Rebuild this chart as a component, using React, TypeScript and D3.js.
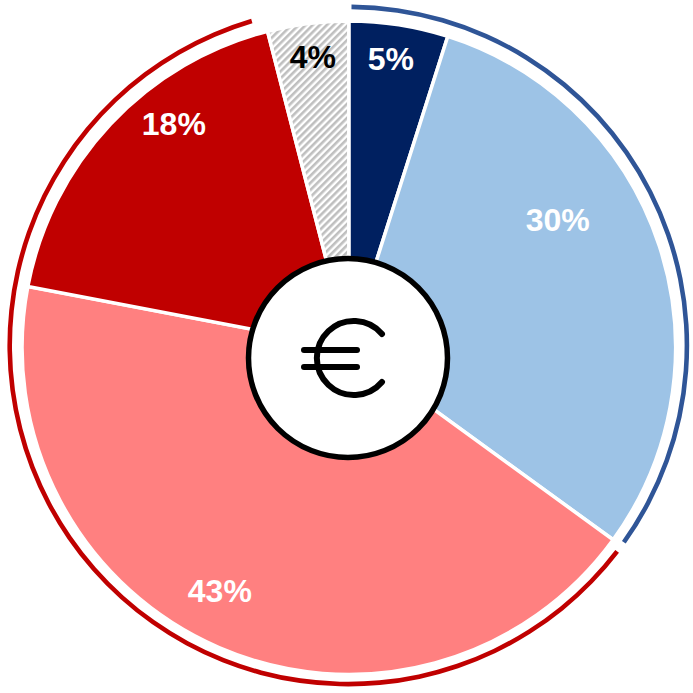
import React from "react";
import * as d3 from "d3";

const categories = ["navy", "lightBlue", "salmon", "red", "other"];
const shares = [4.9, 30.1, 43, 18, 4];
const labels = ["5%", "30%", "43%", "18%", "4%"];
const fills = ["#002060", "#9DC3E6", "#FF8080", "#C00000", "url(#hatch)"];
const labelColors = ["#fff", "#fff", "#fff", "#fff", "#000"];
const labelPositions: [number, number][] = [[42, -289], [209, -127.5], [-129, 243], [-175, -224], [-36, -291]];
const ringGroups = [
  { color: "#2F5597", from: 0.15, to: 34.87 },
  { color: "#C00000", from: 35.4, to: 95.4 },
];

const cx = 348.8, cy = 347.7, R = 326.75, ringCx = 348.3, ringCy = 345.5, ringR = 338.6;

export default function App() {
  const pie = d3.pie<number>().sort(null).value((d) => d)(shares);
  const arc = d3.arc<d3.PieArcDatum<number>>().innerRadius(0).outerRadius(R);
  const toAngle = d3.scaleLinear().domain([0, 100]).range([0, 2 * Math.PI]);
  const ring = d3.arc<any>().innerRadius(ringR - 2.3).outerRadius(ringR + 2.3);
  return (
    <svg width={693} height={693} style={{ position: "absolute", left: 0, top: 0 }}>
      <defs>
        <pattern id="hatch" width="5" height="5" patternUnits="userSpaceOnUse" patternTransform="rotate(-45)">
          <rect width="5" height="5" fill="#fff" />
          <rect width="5" height="2.6" fill="#BFBFBF" />
        </pattern>
      </defs>
      <g transform={`translate(${cx},${cy})`}>
        {pie.map((p, i) => (
          <path key={categories[i]} d={arc(p) as string} fill={fills[i]} stroke="#fff" strokeWidth={3.5} />
        ))}
        {labels.map((l, i) => (
          <text key={l} x={labelPositions[i][0]} y={labelPositions[i][1]} textAnchor="middle" dominantBaseline="central"
            fontFamily="Liberation Sans" fontWeight="bold" fontSize={32} fill={labelColors[i]}>{l}</text>
        ))}
      </g>
      <g transform={`translate(${ringCx},${ringCy})`}>
        {ringGroups.map((g) => (
          <path key={g.color} d={ring({ startAngle: toAngle(g.from), endAngle: toAngle(g.to) }) as string} fill={g.color} />
        ))}
      </g>
      <circle cx={348} cy={358} r={99.5} fill="#fff" stroke="#000" strokeWidth={5.5} />
      <g fill="none" stroke="#000" strokeWidth={6} strokeLinecap="round">
        <path d="M382 334 A37 37 0 1 0 382 382" />
        <path d="M304 350 H357" />
        <path d="M304 367 H357" />
      </g>
    </svg>
  );
}
